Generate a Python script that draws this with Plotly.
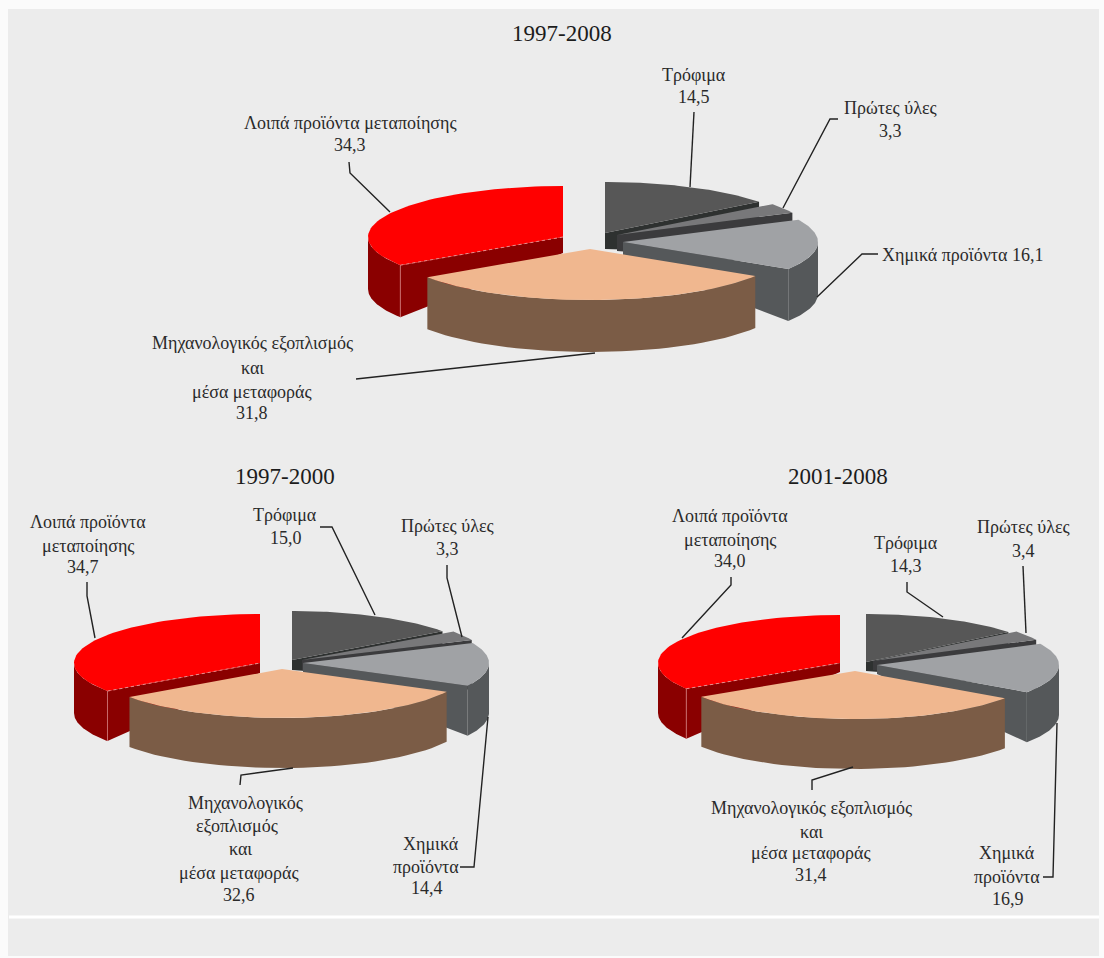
import math
import plotly.graph_objects as go

# ---------- data ----------
slice_names = ["Τρόφιμα", "Πρώτες ύλες", "Χημικά προϊόντα",
               "Μηχανολογικός εξοπλισμός και μέσα μεταφοράς",
               "Λοιπά προϊόντα μεταποίησης"]
values_1997_2008 = [14.5, 3.3, 16.1, 31.8, 34.3]
values_1997_2000 = [15.0, 3.3, 14.4, 32.6, 34.7]
values_2001_2008 = [14.3, 3.4, 16.9, 31.4, 34.0]
titles = ["1997-2008", "1997-2000", "2001-2008"]

# ---------- styling / layout (not data) ----------
top_colors = ["#575757", "#78787a", "#a0a2a5", "#f0b78f", "#ff0000"]
side_colors = ["#2e3130", "#3b3b3d", "#55585a", "#7b5c46", "#8a0000"]
FONT = "Liberation Serif"
TXT = "#2a2a2a"

pies = [
    dict(values=values_1997_2008, rx=195, ry=51, rim_depth=52, apex_depth=16,
         apex=[(605, 233), (617, 235), (623, 242), (590, 249), (563, 237)]),
    dict(values=values_1997_2000, rx=186, ry=49, rim_depth=50, apex_depth=10,
         apex=[(292, 660), (302, 660), (303, 663), (282, 669), (260, 663)]),
    dict(values=values_2001_2008, rx=182, ry=48, rim_depth=50, apex_depth=9,
         apex=[(866, 662), (873, 661), (877, 665), (855, 671), (840, 663)]),
]

title_pos = [(562, 33), (285, 476), (838, 476)]

labels = [
    ("Τρόφιμα", 694, 75), ("14,5", 694, 97),
    ("Πρώτες ύλες", 890, 108), ("3,3", 890, 131),
    ("Λοιπά προϊόντα μεταποίησης", 350, 123), ("34,3", 350, 145),
    ("Χημικά προϊόντα 16,1", 962, 255),
    ("Μηχανολογικός εξοπλισμός", 252, 343), ("και", 252, 368),
    ("μέσα μεταφοράς", 252, 392), ("31,8", 252, 413),
    ("Λοιπά προϊόντα", 88, 522), ("μεταποίησης", 88, 546), ("34,7", 83, 567),
    ("Τρόφιμα", 285, 515), ("15,0", 286, 538),
    ("Πρώτες ύλες", 447, 526), ("3,3", 447, 549),
    ("Μηχανολογικός", 245, 803), ("εξοπλισμός", 237, 826), ("και", 240, 849),
    ("μέσα μεταφοράς", 239, 873), ("32,6", 239, 895),
    ("Χημικά", 431, 844), ("προϊόντα", 426, 867), ("14,4", 427, 888),
    ("Λοιπά προϊόντα", 730, 516), ("μεταποίησης", 730, 540), ("34,0", 730, 561),
    ("Τρόφιμα", 906, 543), ("14,3", 906, 566),
    ("Πρώτες ύλες", 1023, 527), ("3,4", 1023, 551),
    ("Μηχανολογικός εξοπλισμός", 811, 808), ("και", 811, 832),
    ("μέσα μεταφοράς", 811, 853), ("31,4", 811, 875),
    ("Χημικά", 1007, 853), ("προϊόντα", 1007, 877), ("16,9", 1008, 899),
]

leaders = [
    [(694, 112), (690, 187)],
    [(838, 119), (830, 119), (783, 208)],
    [(878, 254), (862, 254), (817, 297)],
    [(349, 162), (350, 173), (390, 212)],
    [(356, 379), (595, 353)],
    [(87, 582), (87, 596), (95, 638)],
    [(320, 527), (332, 527), (375, 615)],
    [(447, 565), (447, 578), (462, 637)],
    [(460, 867), (474, 867), (488, 717)],
    [(240, 785), (241, 775), (293, 768)],
    [(731, 577), (731, 585), (682, 638)],
    [(907, 582), (907, 592), (943, 617)],
    [(1023, 566), (1026, 633)],
    [(1043, 877), (1053, 877), (1057, 723)],
    [(812, 790), (812, 780), (853, 767)],
]

fig = go.Figure()


def poly(xs, ys, color, name):
    fig.add_trace(go.Scatter(x=xs, y=ys, mode="lines", fill="toself", fillcolor=color,
                             line=dict(width=0, color=color), hoverinfo="skip",
                             name=name, showlegend=False))


def rim(apex, rx, ry, deg):
    a = math.radians(deg)
    return apex[0] + rx * math.sin(a), apex[1] - ry * math.cos(a)


def draw_pie(p):
    rx, ry = p["rx"], p["ry"]
    rd, ad = p["rim_depth"], p["apex_depth"]
    total = sum(p["values"])
    angles, acc = [], 0.0
    for v in p["values"]:
        angles.append((acc / total * 360, (acc + v) / total * 360))
        acc += v
    # painter's order: back right slices, then red, then the front peach slice
    for i in [0, 1, 2, 4, 3]:
        a0, a1 = angles[i]
        apex = p["apex"][i]
        name = slice_names[i]
        # radial cut face on the edge that faces the viewer
        if i in (0, 1, 2):
            cx, cy = rim(apex, rx, ry, a1)
            poly([apex[0], cx, cx, apex[0]],
                 [apex[1], cy, cy + rd, apex[1] + ad],
                 side_colors[i], name)
        if i == 4:
            cx, cy = rim(apex, rx, ry, a0)
            poly([apex[0], cx, cx, apex[0]],
                 [apex[1], cy, cy + rd, apex[1] + ad],
                 side_colors[i], name)
        # outer wall over the part of the arc that faces the viewer
        w0, w1 = max(a0, 90), min(a1, 270)
        if w1 > w0:
            n = 40
            ts = [w0 + (w1 - w0) * k / n for k in range(n + 1)]
            pts = [rim(apex, rx, ry, t) for t in ts]
            xs = [q[0] for q in pts] + [q[0] for q in reversed(pts)]
            ys = [q[1] for q in pts] + [q[1] + rd for q in reversed(pts)]
            poly(xs, ys, side_colors[i], name)
        # top surface
        n = 60
        ts = [a0 + (a1 - a0) * k / n for k in range(n + 1)]
        pts = [rim(apex, rx, ry, t) for t in ts]
        poly([apex[0]] + [q[0] for q in pts] + [apex[0]],
             [apex[1]] + [q[1] for q in pts] + [apex[1]],
             top_colors[i], name)
        # pale seam at the red slice's front corner
        if i == 4:
            cx, cy = rim(apex, rx, ry, a0)
            fig.add_trace(go.Scatter(x=[cx, cx], y=[cy, cy + rd], mode="lines",
                                     line=dict(color="#c86a6a", width=1),
                                     hoverinfo="skip", showlegend=False))
            fig.add_trace(go.Scatter(x=[cx, apex[0]], y=[cy, apex[1]], mode="lines",
                                     line=dict(color="#e88a8a", width=1, dash="dot"),
                                     hoverinfo="skip", showlegend=False))


for p in pies:
    draw_pie(p)

for pts in leaders:
    fig.add_trace(go.Scatter(x=[q[0] for q in pts], y=[q[1] for q in pts], mode="lines",
                             line=dict(color="#222222", width=1.4),
                             hoverinfo="skip", showlegend=False))

annotations = []
for t, (x, y) in zip(titles, title_pos):
    annotations.append(dict(x=x, y=y, text=t, showarrow=False, xanchor="center", yanchor="middle",
                            font=dict(family=FONT, size=23, color="#1c1c1c")))
for t, x, y in labels:
    annotations.append(dict(x=x, y=y, text=t, showarrow=False, xanchor="center", yanchor="middle",
                            font=dict(family=FONT, size=18, color=TXT)))

fig.update_layout(
    width=1104, height=958,
    margin=dict(l=0, r=0, t=0, b=0),
    paper_bgcolor="#fbfbfb", plot_bgcolor="#fbfbfb",
    xaxis=dict(range=[0, 1104], visible=False, fixedrange=True),
    yaxis=dict(range=[958, 0], visible=False, fixedrange=True),
    annotations=annotations,
    shapes=[
        dict(type="rect", x0=8, x1=1099, y0=9, y1=956, fillcolor="#ececec",
             line=dict(width=0), layer="below"),
        dict(type="line", x0=9, x1=1099, y0=917, y1=917,
             line=dict(color="#ffffff", width=3), layer="below"),
    ],
)

fig.write_html("out.html", post_script="document.body.style.margin='0';document.body.style.overflow='hidden';",
               config=dict(displayModeBar=False))
